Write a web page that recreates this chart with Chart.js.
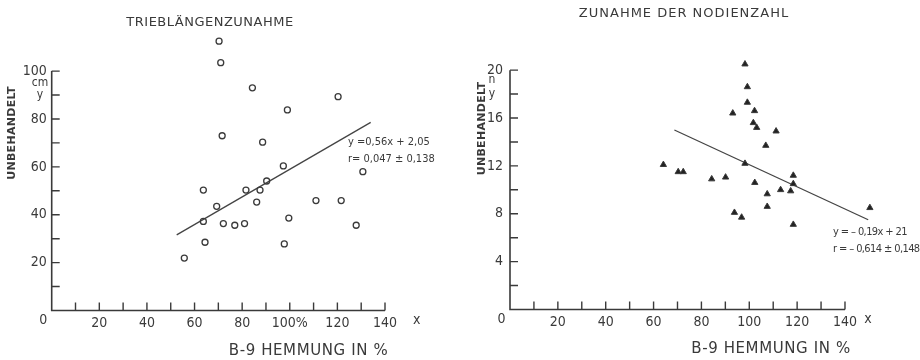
<!DOCTYPE html>
<html>
<head>
<meta charset="utf-8">
<script src="https://cdn.jsdelivr.net/npm/chart.js@4.4.0/dist/chart.umd.min.js"></script>
<style>
  body { margin: 0; background: #fff; }
  #wrap { position: relative; width: 920px; height: 360px; }
  canvas { position: absolute; top: 0; }
</style>
</head>
<body>
<div id="wrap">
  <canvas id="left" width="460" height="360" style="left:0"></canvas>
  <canvas id="right" width="460" height="360" style="left:460px"></canvas>
</div>
<script>
// Triebl\u00e4ngenzunahme (open circles)
const lengthX = [70.3, 71, 84.3, 99, 120.3, 71.6, 88.6, 97.3, 130.7, 63.7, 81.6, 87.5, 90.3,
  69.3, 86.1, 111, 121.6, 63.7, 72.1, 76.9, 81, 99.6, 127.9, 64.4, 97.7, 55.7];
const lengthY = [112.5, 103.5, 93, 83.8, 89.3, 73, 70.3, 60.4, 58, 50.3, 50.3, 50.3, 54.1,
  43.5, 45.3, 45.9, 45.9, 37.2, 36.3, 35.6, 36.3, 38.6, 35.6, 28.5, 27.8, 21.9];
const lengthFitX = [52.5, 134];
const lengthFitY = [31.6, 78.6];
const lengthYLabels = [20, 40, 60, 80, 100];

// Zunahme der Nodienzahl (filled triangles)
const nodeX = [98.2, 99.2, 99.2, 102.2, 93.1, 101.7, 103.1, 111.2, 106.9, 98.2, 64.1, 70.3, 72.4,
  84.3, 90.1, 102.3, 118.4, 118.4, 113.1, 117.3, 107.5, 107.5, 93.8, 96.8, 118.4, 150.4];
const nodeY = [20.5, 18.6, 17.3, 16.6, 16.4, 15.6, 15.2, 14.9, 13.7, 12.2, 12.1, 11.5, 11.5,
  10.9, 11.05, 10.6, 11.2, 10.5, 10.0, 9.9, 9.65, 8.6, 8.1, 7.7, 7.1, 8.5];
const nodeFitX = [68.7, 149.7];
const nodeFitY = [15.0, 7.5];
const nodeYLabels = [4, 8, 12, 16, 20];

const xLabels = [20, 40, 60, 80, 100, 120, 140];

const ink = '#3a3a3a';
const narrow = "'Liberation Sans Narrow', 'DejaVu Sans Condensed', sans-serif";
const sans = "'DejaVu Sans', sans-serif";

function pts(xs, ys) {
  return xs.map((x, i) => ({ x: x, y: ys[i] }));
}

function text(ctx, str, x, y, font, align, spacing) {
  ctx.save();
  ctx.font = font;
  ctx.fillStyle = ink;
  ctx.textAlign = align || 'center';
  ctx.textBaseline = 'middle';
  ctx.letterSpacing = (spacing || 0) + 'px';
  ctx.fillText(str, x, y);
  ctx.restore();
}

function decor(d) {
  return {
    id: 'decor',
    afterDraw(chart) {
      const ctx = chart.ctx;
      const xs = chart.scales.x, ys = chart.scales.y;
      const X0 = xs.getPixelForValue(0), X1 = xs.getPixelForValue(d.xEnd);
      const Y0 = ys.getPixelForValue(0), Y1 = ys.getPixelForValue(d.yEnd);
      ctx.save();
      ctx.strokeStyle = ink;
      ctx.lineWidth = 1.6;
      ctx.beginPath();
      ctx.moveTo(X0, Y1);
      ctx.lineTo(X0, Y0);
      ctx.lineTo(X1, Y0);
      ctx.stroke();
      ctx.lineWidth = 1.4;
      ctx.beginPath();
      xs.ticks.forEach(t => {
        if (t.value <= 0 || t.value > d.xEnd || t.value % 10) return;
        const px = xs.getPixelForValue(t.value);
        ctx.moveTo(px, Y0);
        ctx.lineTo(px, Y0 - 8);
      });
      ys.ticks.forEach(t => {
        if (t.value <= 0 || t.value > d.yEnd || t.value % d.yStep) return;
        const py = ys.getPixelForValue(t.value);
        ctx.moveTo(X0, py);
        ctx.lineTo(X0 + 8, py);
      });
      ctx.stroke();
      ctx.restore();

      text(ctx, d.title, X0 + d.titleDx, Y1 + d.titleDy, '13px ' + sans, 'center', d.titleSp);
      text(ctx, 'B-9 HEMMUNG IN %', X0 + d.xtDx, Y0 + d.xtDy, '15px ' + sans, 'center', 0.6);
      text(ctx, '0', X0 - 8.4, Y0 + 10, '14px ' + narrow);
      text(ctx, 'x', X1 + d.xDx, Y0 + 10, '14px ' + narrow);
      text(ctx, d.unit, X0 + d.unitDx, Y1 + d.unitDy, '12px ' + narrow);
      text(ctx, 'y', X0 + d.unitDx, Y1 + 23.5, '12px ' + narrow);
      d.notes.forEach((n, i) => {
        text(ctx, n, X0 + d.noteDx, Y1 + d.noteDy + i * 17, '11px ' + narrow, 'left', d.noteSp);
      });

      ctx.save();
      ctx.translate(d.ytX, d.ytY);
      ctx.rotate(-Math.PI / 2);
      text(ctx, 'UNBEHANDELT', 0, 0, 'bold 11px ' + sans, 'center', 0.3);
      ctx.restore();
    }
  };
}

function build(id, cfg) {
  new Chart(document.getElementById(id), {
    type: 'scatter',
    data: {
      datasets: [
        {
          data: cfg.points,
          pointStyle: cfg.style,
          pointRadius: cfg.radius,
          borderWidth: cfg.bw,
          borderColor: ink,
          backgroundColor: cfg.fill,
          clip: false
        },
        {
          type: 'line',
          data: cfg.fit,
          showLine: true,
          pointRadius: 0,
          borderColor: '#444',
          borderWidth: 1.3,
          clip: false
        }
      ]
    },
    options: {
      responsive: false,
      animation: false,
      events: [],
      layout: { padding: cfg.padding },
      plugins: { legend: { display: false }, tooltip: { enabled: false } },
      scales: {
        x: {
          type: 'linear',
          min: 0,
          max: cfg.xMax,
          grid: { display: false, drawTicks: false },
          border: { display: false },
          afterFit(s) { s.height = cfg.xHeight; },
          ticks: {
            stepSize: 10,
            autoSkip: false,
            maxRotation: 0,
            padding: 4,
            color: ink,
            font: { family: narrow, size: 14 },
            callback: v => xLabels.includes(v) ? (v === 100 && cfg.pct ? '100%' : String(v)) : ''
          }
        },
        y: {
          min: 0,
          max: cfg.yMax,
          grid: { display: false, drawTicks: false },
          border: { display: false },
          afterFit(s) { s.width = cfg.yWidth; },
          ticks: {
            stepSize: cfg.yStep,
            autoSkip: false,
            padding: cfg.yPad,
            color: ink,
            font: { family: narrow, size: 14 },
            callback: v => cfg.yLabels.includes(v) ? String(v) : ''
          }
        }
      }
    },
    plugins: [decor(cfg.decor)]
  });
}

build('left', {
  points: pts(lengthX, lengthY),
  fit: pts(lengthFitX, lengthFitY),
  style: 'circle', radius: 3, bw: 1.3, fill: 'rgba(255,255,255,0)',
  padding: { left: 0, right: 75, top: 32.8, bottom: 0 },
  xMax: 140, xHeight: 49.5, yWidth: 51.7, yMax: 116, yStep: 10, yPad: 5, yLabels: lengthYLabels, pct: true,
  decor: {
    xEnd: 140, yEnd: 100, yStep: 10,
    title: 'TRIEBL\u00c4NGENZUNAHME', titleDx: 158.3, titleDy: -48.3, titleSp: 0.5,
    xtDx: 256.8, xtDy: 40.2, xDx: 31.7,
    unit: 'cm', unitDx: -11.7, unitDy: 12,
    notes: ['y =0,56x + 2,05', 'r= 0,047 \u00b1 0,138'], noteDx: 296.3, noteDy: 71, noteSp: 0,
    ytX: 12, ytY: 133
  }
});

build('right', {
  points: pts(nodeX, nodeY),
  fit: pts(nodeFitX, nodeFitY),
  style: 'triangle', radius: 3.6, bw: 1, fill: '#222',
  padding: { left: 0, right: 46.3, top: 46.2, bottom: 0 },
  xMax: 152, xHeight: 50.5, yWidth: 50, yMax: 22, yStep: 2, yPad: 7, yLabels: nodeYLabels, pct: false,
  decor: {
    xEnd: 140, yEnd: 20, yStep: 2,
    title: 'ZUNAHME DER NODIENZAHL', titleDx: 174, titleDy: -56.7, titleSp: 1,
    xtDx: 261, xtDy: 39.5, xDx: 23,
    unit: 'n', unitDx: -18, unitDy: 10,
    notes: ['y = \u2013 0,19x + 21', 'r = \u2013 0,614 \u00b1 0,148'], noteDx: 323, noteDy: 161.7, noteSp: -0.6,
    ytX: 21.7, ytY: 128.5
  }
});
</script>
</body>
</html>
